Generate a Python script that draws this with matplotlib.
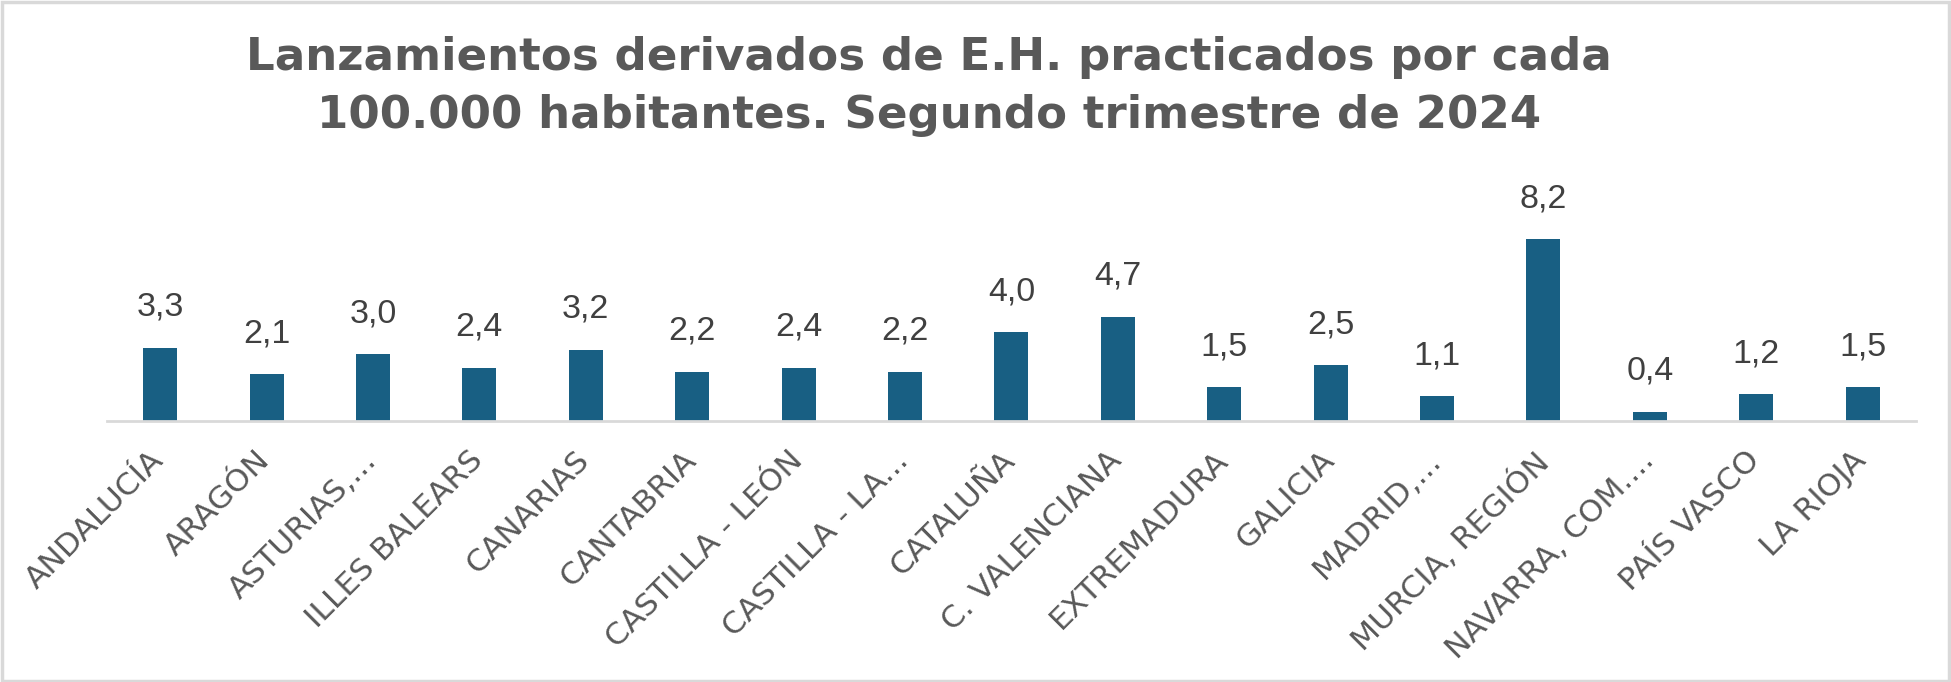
import matplotlib.pyplot as plt
import matplotlib.transforms as mtransforms
import numpy as np
from matplotlib.patches import Rectangle

# Datos
comunidades = ["ANDALUCÍA", "ARAGÓN", "ASTURIAS,...", "ILLES BALEARS", "CANARIAS",
               "CANTABRIA", "CASTILLA - LEÓN", "CASTILLA - LA...", "CATALUÑA",
               "C. VALENCIANA", "EXTREMADURA", "GALICIA", "MADRID,...",
               "MURCIA, REGIÓN", "NAVARRA, COM....", "PAÍS VASCO", "LA RIOJA"]
tasa = [3.3, 2.1, 3.0, 2.4, 3.2, 2.2, 2.4, 2.2, 4.0, 4.7, 1.5, 2.5, 1.1, 8.2, 0.4, 1.2, 1.5]

titulo = "Lanzamientos derivados de E.H. practicados por cada\n100.000 habitantes. Segundo trimestre de 2024"

gris = "#595959"
azul = "#185F83"

fig = plt.figure(figsize=(19.51, 6.82), dpi=100)
ax = fig.add_axes([0.0548, 0.3833, 0.9272, 0.2917])

x = np.arange(len(comunidades))
barras = ax.bar(x, tasa, width=0.32, color=azul, zorder=2)

# etiquetas de datos con coma decimal
for xi, v in zip(x, tasa):
    ax.annotate(f"{v:.1f}".replace(".", ","), (xi, v), xytext=(0, 18),
                textcoords="offset points", ha="center", va="bottom",
                fontsize=24.5, color="#404040", family="Liberation Sans")

ax.set_xlim(-0.5, len(comunidades) - 0.5)
ax.set_ylim(0, 9)
ax.set_yticks([])
for s in ["top", "right", "left"]:
    ax.spines[s].set_visible(False)
ax.spines["bottom"].set_color("#D9D9D9")
ax.spines["bottom"].set_linewidth(2)

ax.set_xticks(x)
ax.set_xticklabels(comunidades, rotation=45, ha="right", va="top",
                   rotation_mode="anchor", fontsize=22.5, color=gris,
                   family="DejaVu Sans")
ax.tick_params(axis="x", length=0, pad=18)
# desplazar un poco las etiquetas a la izquierda, como en el original
desp = mtransforms.ScaledTranslation(-8 / 72, 0, fig.dpi_scale_trans)
for lbl in ax.get_xticklabels():
    lbl.set_transform(lbl.get_transform() + desp)

fig.text(0.476, 0.873, titulo, ha="center", va="center", fontsize=32.5,
         fontweight="bold", color=gris, linespacing=1.45, family="DejaVu Sans")

# marco del gráfico
fig.patches.append(Rectangle((0.001, 0.002), 0.998, 0.995, transform=fig.transFigure,
                             fill=False, edgecolor="#D9D9D9", linewidth=2.5))

fig.savefig("out.png", dpi=100, facecolor="white")
